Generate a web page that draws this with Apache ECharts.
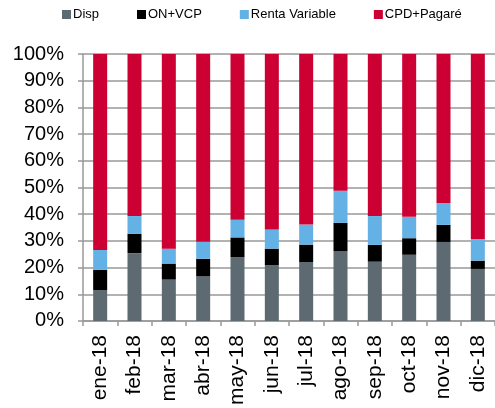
<!DOCTYPE html>
<html>
<head>
<meta charset="utf-8">
<script src="https://cdn.jsdelivr.net/npm/echarts@6/dist/echarts.min.js"></script>
<style>
  html, body { margin: 0; padding: 0; background: #fff; }
  #chart { width: 495px; height: 408px; }
</style>
</head>
<body>
<div id="chart"></div>
<script>
// months
var categories = ['ene-18', 'feb-18', 'mar-18', 'abr-18', 'may-18', 'jun-18',
  'jul-18', 'ago-18', 'sep-18', 'oct-18', 'nov-18', 'dic-18']

// shares in %
var disp = [11.6, 25.4, 15.5, 16.7, 23.9, 20.9, 22.1, 26.2, 22.2, 24.8, 29.6, 19.5]
var onVcp = [7.6, 7.3, 6.0, 6.6, 7.4, 6.2, 6.5, 10.6, 6.3, 6.2, 6.4, 3.1]
var rentaVariable = [7.4, 6.6, 5.6, 6.4, 6.6, 7.2, 7.5, 12.0, 10.8, 8.0, 8.2, 8.1]
var cpdPagare = [73.4, 60.7, 72.9, 70.3, 62.1, 65.7, 63.9, 51.2, 60.7, 61.0, 55.8, 69.3]

var chart = echarts.init(document.getElementById('chart'))

function bar(name, data, color) {
  return {
    name: name,
    type: 'bar',
    stack: 'total',
    barWidth: 14,
    data: data,
    itemStyle: { color: color }
  }
}

chart.setOption({
  animation: false,
  textStyle: { fontFamily: 'Liberation Sans, Arial, sans-serif' },
  legend: {
    top: 3,
    left: 57,
    itemGap: 38,
    itemWidth: 9,
    itemHeight: 9,
    icon: 'rect',
    textStyle: { fontSize: 13, color: '#000', padding: [0, 0, 0, -3] },
    data: ['Disp', 'ON+VCP', 'Renta Variable', 'CPD+Pagaré']
  },
  grid: {
    left: 83,
    right: 0,
    top: 54,
    bottom: 87
  },
  xAxis: {
    type: 'category',
    data: categories,
    axisLine: { lineStyle: { color: '#999', width: 1.5 } },
    axisTick: { show: true, length: 5, lineStyle: { color: '#999', width: 1.5 } },
    axisLabel: {
      rotate: 90,
      fontSize: 21,
      color: '#000',
      margin: 14
    },
    splitLine: { show: false }
  },
  yAxis: {
    type: 'value',
    min: 0,
    max: 100,
    interval: 10,
    axisLine: { show: true, lineStyle: { color: '#999', width: 1.5 } },
    axisTick: { show: true, length: 5, lineStyle: { color: '#999', width: 1.5 } },
    axisLabel: {
      formatter: '{value}%',
      fontSize: 20,
      color: '#000',
      margin: 19
    },
    splitLine: { show: true, lineStyle: { color: '#999', width: 1.5 } }
  },
  series: [
    bar('Disp', disp, '#5D6A72'),
    bar('ON+VCP', onVcp, '#000000'),
    bar('Renta Variable', rentaVariable, '#63B1E5'),
    bar('CPD+Pagaré', cpdPagare, '#CC0033')
  ]
})
</script>
</body>
</html>
